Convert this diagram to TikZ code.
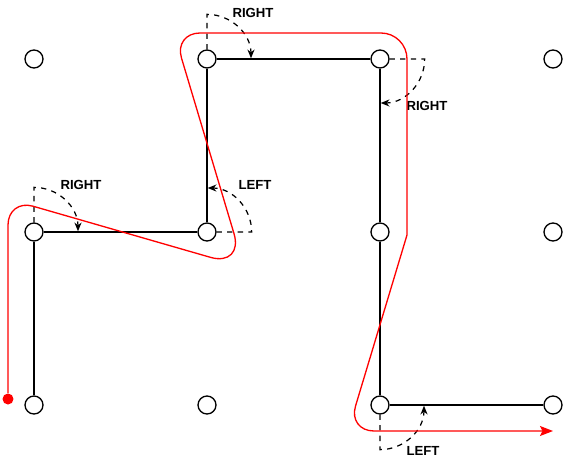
\documentclass[tikz,border=0pt]{standalone}
\usepackage{fontspec}
\setmainfont{Liberation Sans}
\usetikzlibrary{arrows.meta}

\begin{document}
\begin{tikzpicture}[x=0.02cm,y=0.02cm,
		spot/.style={circle,draw,fill=white,line width=0.75pt,minimum size=0.36cm,inner sep=0pt},
		track/.style={line width=0.75pt},
		turn/.style={dashed,line width=0.7pt,-{Stealth[length=5pt,width=4pt]}},
		turnlabel/.style={font=\bfseries\fontsize{7.5}{9}\selectfont},
		reddot/.style={circle,fill=red,inner sep=0pt,minimum size=0.22cm},
		route/.style={red,line width=0.75pt,rounded corners=0.52cm,-{Stealth[length=0.26cm,width=0.2cm,inset=0.05cm]}}]

	\useasboundingbox (0,0) rectangle (563,457);

	\node[spot] (a1) at (34,398) {};
	\node[spot] (a2) at (207,398) {};
	\node[spot] (a3) at (380,398) {};
	\node[spot] (a4) at (553,398) {};

	\node[spot] (b1) at (34,225) {};
	\node[spot] (b2) at (207,225) {};
	\node[spot] (b3) at (380,225) {};
	\node[spot] (b4) at (553,225) {};

	\node[spot] (c1) at (34,52) {};
	\node[spot] (c2) at (207,52) {};
	\node[spot] (c3) at (380,52) {};
	\node[spot] (c4) at (553,52) {};

	\draw[track] (c1) -- (b1);
	\draw[track] (b1) -- (b2);
	\draw[track] (b2) -- (a2);
	\draw[track] (a2) -- (a3);
	\draw[track] (a3) -- (b3);
	\draw[track] (b3) -- (c3);
	\draw[track] (c3) -- (c4);

	\draw[turn] (b1.north) -- ++(0,35) arc[start angle=90,end angle=0,radius=0.88cm];
	\draw[turn] (a2.north) -- ++(0,35) arc[start angle=90,end angle=0,radius=0.88cm];
	\draw[turn] (a3.east) -- ++(35,0) arc[start angle=0,end angle=-90,radius=0.88cm];
	\draw[turn] (b2.east) -- ++(35,0) arc[start angle=0,end angle=90,radius=0.88cm];
	\draw[turn] (c3.south) -- ++(0,-35) arc[start angle=-90,end angle=0,radius=0.88cm];

	\node[turnlabel] (l1) at (81,272) {RIGHT};
	\node[turnlabel] (l2) at (253,444) {RIGHT};
	\node[turnlabel] (l3) at (427,351) {RIGHT};
	\node[turnlabel] (l4) at (255,272) {LEFT};
	\node[turnlabel] (l5) at (423,6) {LEFT};

	\node[reddot] (start) at (8,58) {};
	\coordinate (finish) at (553,26);
	\draw[route] (start) -- (8,258) [rounded corners=0.7cm] -- (244,190) [rounded corners=0.52cm] -- (174,424) -- (407,424) [sharp corners] -- (407,222) [rounded corners=0.52cm] -- (348,26) -- (finish);

\end{tikzpicture}
\end{document}
